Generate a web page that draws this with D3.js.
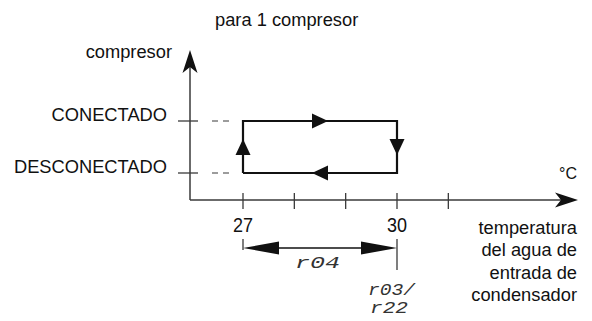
<!DOCTYPE html>
<html><head><meta charset="utf-8">
<script src="https://cdn.jsdelivr.net/npm/d3@7"></script>
<style>
body{margin:0;background:#fff;}
text{font-family:"Liberation Sans",Arial,Helvetica,sans-serif;fill:#111;}
.seg{font-family:"Liberation Mono","DejaVu Sans Mono",monospace;font-style:italic;fill:#333;}
</style></head>
<body><svg id="c" width="592" height="321"></svg>
<script>
// data
const title = "para 1 compresor";
const yTitle = "compresor";
const states = ["DESCONECTADO", "CONECTADO"];           // 0 = off, 1 = on
const xTicks = [27, 28, 29, 30, 31];
const xTickLabels = [27, 30];
const unit = "°C";
const xTitle = ["temperatura", "del agua de", "entrada de", "condensador"];
const loop = [[27, 0], [27, 1], [30, 1], [30, 0]];     // hysteresis cycle
const bandLabel = "r04";
const setLabel = ["r03/", "r22"];
const onTemp = 30, offTemp = 27;

const svg = d3.select("#c");
const x = d3.scaleLinear().domain([27, 30]).range([243, 397]);
const y = d3.scaleLinear().domain([0, 1]).range([173, 121]);
const x0 = 190, y0 = 200, xEnd = 578, yEnd = 50;
const axisCol = "#3a3a3a";
const fs = 18.3;

// title
svg.append("text").attr("x", 215).attr("y", 26).attr("font-size", fs).text(title);

// axes
svg.append("line").attr("x1", x0).attr("x2", x0).attr("y1", y0).attr("y2", yEnd + 12)
  .attr("stroke", axisCol).attr("stroke-width", 1.5);
svg.append("line").attr("x1", x0).attr("x2", xEnd - 12).attr("y1", y0).attr("y2", y0)
  .attr("stroke", axisCol).attr("stroke-width", 1.5);
// axis arrowheads (notched)
svg.append("path").attr("d", `M${x0},${yEnd} L${x0 + 7.5},${yEnd + 23} L${x0},${yEnd + 17} L${x0 - 7.5},${yEnd + 23} Z`).attr("fill", "#111");
svg.append("path").attr("d", `M${xEnd},${y0} L${xEnd - 23},${y0 - 7.5} L${xEnd - 17},${y0} L${xEnd - 23},${y0 + 7.5} Z`).attr("fill", "#111");

// x ticks
svg.selectAll(".xt").data(xTicks).join("line")
  .attr("x1", d => x(d)).attr("x2", d => x(d)).attr("y1", y0 - 7).attr("y2", y0 + 9)
  .attr("stroke", axisCol).attr("stroke-width", 1.3);
svg.selectAll(".xl").data(xTickLabels).join("text")
  .attr("x", d => x(d) - 10).attr("y", 232).attr("font-size", 21)
  .attr("textLength", 20).attr("lengthAdjust", "spacingAndGlyphs")
  .text(d => d);

// y ticks + dashes + labels
svg.selectAll(".yt").data([0, 1]).join("line")
  .attr("x1", x0 - 12).attr("x2", x0 + 8).attr("y1", d => y(d)).attr("y2", d => y(d))
  .attr("stroke", axisCol).attr("stroke-width", 1.3);
svg.selectAll(".yd").data([0, 1]).join("line")
  .attr("x1", 212).attr("x2", 229).attr("y1", d => y(d)).attr("y2", d => y(d))
  .attr("stroke", axisCol).attr("stroke-width", 1.2).attr("stroke-dasharray", "6,5");
svg.selectAll(".yl").data([0, 1]).join("text")
  .attr("x", 167).attr("y", d => y(d)).attr("text-anchor", "end").attr("font-size", fs)
  .text(d => states[d]);
svg.append("text").attr("x", 172).attr("y", 58).attr("text-anchor", "end").attr("font-size", fs).text(yTitle);

// unit & x title
svg.append("text").attr("x", 559).attr("y", 179).attr("font-size", 17)
  .attr("textLength", 18).attr("lengthAdjust", "spacingAndGlyphs").text(unit);
svg.selectAll(".xtt").data(xTitle).join("text")
  .attr("x", 577).attr("y", (d, i) => 234 + i * 22.4).attr("text-anchor", "end").attr("font-size", fs)
  .text(d => d);

// hysteresis loop
const line = d3.line().x(d => x(d[0])).y(d => y(d[1]));
svg.append("path").attr("d", line([...loop, loop[0]])).attr("fill", "none")
  .attr("stroke", "#111").attr("stroke-width", 2.2).attr("stroke-linejoin", "miter");
// direction arrows at segment midpoints
function tri(cx, cy, angle) {
  svg.append("path").attr("d", "M8,0 L-8,-7.5 L-8,7.5 Z")
    .attr("transform", `translate(${cx},${cy}) rotate(${angle})`).attr("fill", "#111");
}
for (let i = 0; i < loop.length; i++) {
  const a = loop[i], b = loop[(i + 1) % loop.length];
  const ax = x(a[0]), ay = y(a[1]), bx = x(b[0]), by = y(b[1]);
  const ang = Math.atan2(by - ay, bx - ax) * 180 / Math.PI;
  tri((ax + bx) / 2, (ay + by) / 2, ang);
}

// r04 band
svg.append("line").attr("x1", x(offTemp)).attr("x2", x(offTemp)).attr("y1", 239).attr("y2", 250).attr("stroke", axisCol).attr("stroke-width", 1.3);
svg.append("line").attr("x1", x(onTemp)).attr("x2", x(onTemp)).attr("y1", 239).attr("y2", 270).attr("stroke", axisCol).attr("stroke-width", 1.3);
const by = 248;
svg.append("line").attr("x1", x(offTemp) + 20).attr("x2", x(onTemp) - 20).attr("y1", by).attr("y2", by).attr("stroke", "#111").attr("stroke-width", 1.5);
svg.append("path").attr("d", `M${x(offTemp)},${by} L${x(offTemp) + 36},${by - 6.5} L${x(offTemp) + 36},${by + 6.5} Z`).attr("fill", "#111");
svg.append("path").attr("d", `M${x(onTemp)},${by} L${x(onTemp) - 36},${by - 6.5} L${x(onTemp) - 36},${by + 6.5} Z`).attr("fill", "#111");
svg.append("text").attr("class", "seg").attr("x", 295).attr("y", 268).attr("font-size", 17)
  .attr("textLength", 45).attr("lengthAdjust", "spacingAndGlyphs").text(bandLabel);
svg.append("text").attr("class", "seg").attr("x", 368).attr("y", 295).attr("font-size", 17)
  .attr("textLength", 47).attr("lengthAdjust", "spacingAndGlyphs").text(setLabel[0]);
svg.append("text").attr("class", "seg").attr("x", 370).attr("y", 313).attr("font-size", 17)
  .attr("textLength", 38).attr("lengthAdjust", "spacingAndGlyphs").text(setLabel[1]);
</script></body></html>
